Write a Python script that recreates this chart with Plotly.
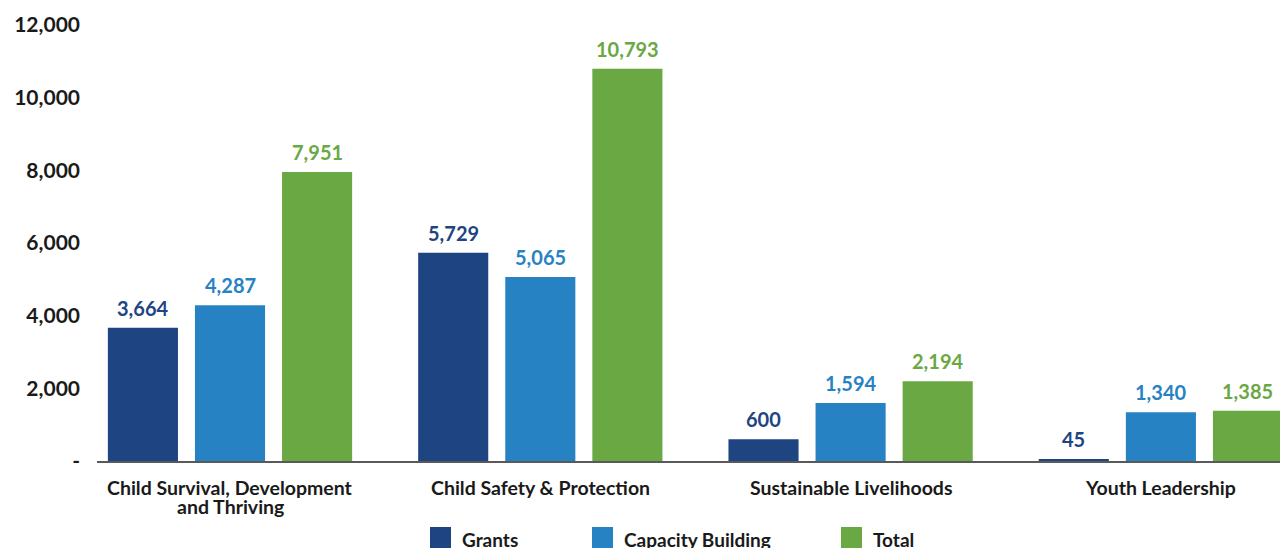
import plotly.graph_objects as go

categories = [
    "Child Survival, Development<br>and Thriving",
    "Child Safety & Protection",
    "Sustainable Livelihoods",
    "Youth Leadership",
]
series_names = ["Grants", "Capacity Building", "Total"]
grants = [3664, 5729, 600, 45]
capacity_building = [4287, 5065, 1594, 1340]
total = [7951, 10793, 2194, 1385]
series_values = [grants, capacity_building, total]
series_colors = ["#1e4582", "#2782c4", "#6aa844"]

y_tick_values = [0, 2000, 4000, 6000, 8000, 10000, 12000]
y_tick_labels = ["-", "2,000", "4,000", "6,000", "8,000", "10,000", "12,000"]

FONT = "Lato"
TEXT_COLOR = "#1a1a1a"
W, H = 1280, 548
M_L, M_R, M_T, M_B = 97, 0, 25, 87
BARGAP = 0.158
PLOT_W = W - M_L - M_R
PLOT_H = H - M_T - M_B


def px_x(p):
    return (p - M_L) / PLOT_W


def px_y(p):
    return (H - M_B - p) / PLOT_H


fig = go.Figure()
for name, vals, color in zip(series_names, series_values, series_colors):
    fig.add_trace(go.Bar(
        x=list(range(len(categories))), y=vals, name=name,
        marker=dict(color=color, line=dict(width=0)),
        showlegend=False,
    ))

# value labels above each bar, offset to each bar's slot in the group
slot = (1 - BARGAP) / len(series_names)
annotations = []
for i, (vals, color) in enumerate(zip(series_values, series_colors)):
    off = (i - (len(series_names) - 1) / 2) * slot
    for j, v in enumerate(vals):
        annotations.append(dict(
            x=j + off, y=v, xref="x", yref="y", text=f"<b>{v:,}</b>",
            showarrow=False, yanchor="bottom", yshift=6,
            font=dict(family=FONT, size=20, color=color),
        ))

# category labels under the axis, one annotation per line for tight spacing
for j, cat in enumerate(categories):
    for k, line in enumerate(cat.split("<br>")):
        annotations.append(dict(
            x=j, y=px_y(487 + 19 * k), xref="x", yref="paper",
            text=f"<b>{line}</b>", showarrow=False,
            xanchor="center", yanchor="middle",
            font=dict(family=FONT, size=19.5, color=TEXT_COLOR),
        ))

# legend drawn as swatches and labels below the axis
legend_swatch_x = [430, 592, 841]
shapes = []
for name, color, sx in zip(series_names, series_colors, legend_swatch_x):
    shapes.append(dict(
        type="rect", xref="paper", yref="paper",
        x0=px_x(sx), x1=px_x(sx + 21), y0=px_y(548), y1=px_y(527),
        fillcolor=color, line=dict(width=0),
    ))
    annotations.append(dict(
        x=px_x(sx + 30), y=px_y(539), xref="paper", yref="paper",
        text=f"<b>{name}</b>", showarrow=False, xanchor="left", yanchor="middle",
        font=dict(family=FONT, size=19, color=TEXT_COLOR),
    ))

x_start = -133 / 310.3
fig.update_layout(
    width=W, height=H,
    margin=dict(l=M_L, r=M_R, t=M_T, b=M_B, pad=0),
    paper_bgcolor="white", plot_bgcolor="white",
    barmode="group", bargap=BARGAP, bargroupgap=0.195,
    font=dict(family=FONT, color=TEXT_COLOR),
    xaxis=dict(
        range=[x_start, x_start + PLOT_W / 310.3],
        tickmode="array", tickvals=list(range(len(categories))),
        showticklabels=False,
        showline=True, linecolor="#595959", linewidth=2,
        showgrid=False, zeroline=False, ticks="",
    ),
    yaxis=dict(
        range=[0, 12000],
        tickmode="array", tickvals=y_tick_values,
        ticktext=[f"<b>{t}</b>" for t in y_tick_labels],
        tickfont=dict(family=FONT, size=21, color=TEXT_COLOR),
        showgrid=False, zeroline=False, showline=False, ticks="",
        ticklabelstandoff=16,
    ),
    shapes=shapes,
    annotations=annotations,
)

fig.write_html("out.html")
